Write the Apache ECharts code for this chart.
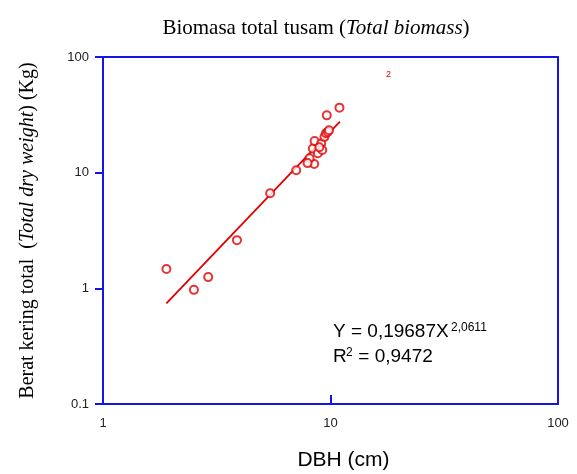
<!DOCTYPE html>
<html>
<head>
<meta charset="utf-8">
<script src="https://cdn.jsdelivr.net/npm/echarts@6/dist/echarts.min.js"></script>
<style>
  html, body { margin: 0; padding: 0; background: #fff; }
  #chart { width: 577px; height: 474px; }
</style>
</head>
<body>
<div id="chart"></div>
<script>
// DBH (cm) and total dry weight (kg)
const dbh = [1.90, 2.51, 2.90, 3.88, 5.43, 7.07, 8.48, 8.09, 7.93, 8.36, 8.51, 8.80, 9.10, 9.20, 8.93, 9.41, 9.55, 9.73, 9.85, 9.63, 10.95];
const weight = [1.47, 0.97, 1.25, 2.61, 6.63, 10.5, 11.9, 13.3, 12.1, 16.2, 18.8, 14.7, 17.9, 15.7, 16.6, 20.4, 21.9, 22.5, 23.3, 31.3, 36.5];

// ends of the fitted line Y = 0,19687X^2,0611 as drawn
const fitX = [1.9, 11.0];
const fitY = [0.74, 27.6];

const blue = '#1414ea';
const red = '#e00000';
const eqFont = '"Liberation Sans Narrow", "Liberation Sans", sans-serif';

const chart = echarts.init(document.getElementById('chart'));

const serifRich = (size) => ({
  a: { fontFamily: 'Liberation Serif', fontSize: size, fontWeight: 'normal', color: '#000' },
  b: { fontFamily: 'Liberation Serif', fontSize: size, fontWeight: 'normal', fontStyle: 'italic', color: '#000' }
});

const options = {
  animation: false,
  title: {
    text: '{a|Biomasa total tusam (}{b|Total biomass}{a|)}',
    left: 311,
    top: 13,
    textAlign: 'center',
    textStyle: { fontWeight: 'normal', rich: serifRich(21) }
  },
  grid: { left: 103, right: 19, top: 57, bottom: 70, outerBoundsMode: 'none' },
  xAxis: [
    {
      type: 'log', logBase: 10, min: 1, max: 100,
      name: 'DBH (cm)', nameLocation: 'middle', nameGap: 46,
      nameTextStyle: { fontFamily: 'Liberation Sans', fontSize: 21, color: '#000', padding: [0, 0, 0, 26] },
      axisLine: { lineStyle: { color: blue, width: 2 } },
      axisTick: { inside: true, length: 9, lineStyle: { color: blue, width: 2 } },
      axisLabel: { margin: 13, fontFamily: 'Liberation Sans', fontSize: 13, color: '#222' },
      splitLine: { show: false },
      minorTick: { show: false }
    },
    {
      type: 'log', logBase: 10, min: 1, max: 100, position: 'top',
      axisLine: { show: true, lineStyle: { color: blue, width: 2 } },
      axisTick: { show: false }, axisLabel: { show: false }, splitLine: { show: false }
    }
  ],
  yAxis: [
    {
      type: 'log', logBase: 10, min: 0.1, max: 100,
      name: '{a|Berat kering total  (}{b|Total dry weight}{a|) (Kg)}',
      nameLocation: 'middle', nameGap: 65, nameRotate: 90,
      nameTextStyle: { rich: serifRich(20) },
      axisLine: { lineStyle: { color: blue, width: 2 } },
      axisTick: { length: 8, lineStyle: { color: blue, width: 2 } },
      axisLabel: { margin: 14, fontFamily: 'Liberation Sans', fontSize: 13, color: '#222' },
      splitLine: { show: false },
      minorTick: { show: false }
    },
    {
      type: 'log', logBase: 10, min: 0.1, max: 100, position: 'right',
      axisLine: { show: true, lineStyle: { color: blue, width: 2 } },
      axisTick: { show: false }, axisLabel: { show: false }, splitLine: { show: false }
    }
  ],
  series: [
    {
      type: 'line',
      data: fitX.map((x, i) => [x, fitY[i]]),
      showSymbol: false,
      lineStyle: { color: red, width: 1.8 },
      z: 2
    },
    {
      type: 'scatter',
      data: dbh.map((x, i) => [x, weight[i]]),
      symbol: 'emptyCircle',
      symbolSize: 8,
      itemStyle: { color: red, borderColor: red, borderWidth: 1.8 },
      z: 3
    }
  ],
  graphic: [
    {
      type: 'text', x: 333, y: 341,
      style: { text: 'Y = 0,19687X', font: '19px ' + eqFont, fill: '#000', verticalAlign: 'bottom' }
    },
    {
      type: 'text', x: 451, y: 322,
      style: { text: '2,0611', font: '12px ' + eqFont, fill: '#000', verticalAlign: 'top' }
    },
    {
      type: 'text', x: 333, y: 366,
      style: { text: 'R', font: '19px ' + eqFont, fill: '#000', verticalAlign: 'bottom' }
    },
    {
      type: 'text', x: 346, y: 347,
      style: { text: '2', font: '12px ' + eqFont, fill: '#000', verticalAlign: 'top' }
    },
    {
      type: 'text', x: 353, y: 366,
      style: { text: ' = 0,9472', font: '19px ' + eqFont, fill: '#000', verticalAlign: 'bottom' }
    },
    {
      type: 'text', x: 386, y: 70,
      style: { text: '2', font: '9px "Liberation Sans", sans-serif', fill: red, verticalAlign: 'top' }
    }
  ]
};

chart.setOption(options);
</script>
</body>
</html>
